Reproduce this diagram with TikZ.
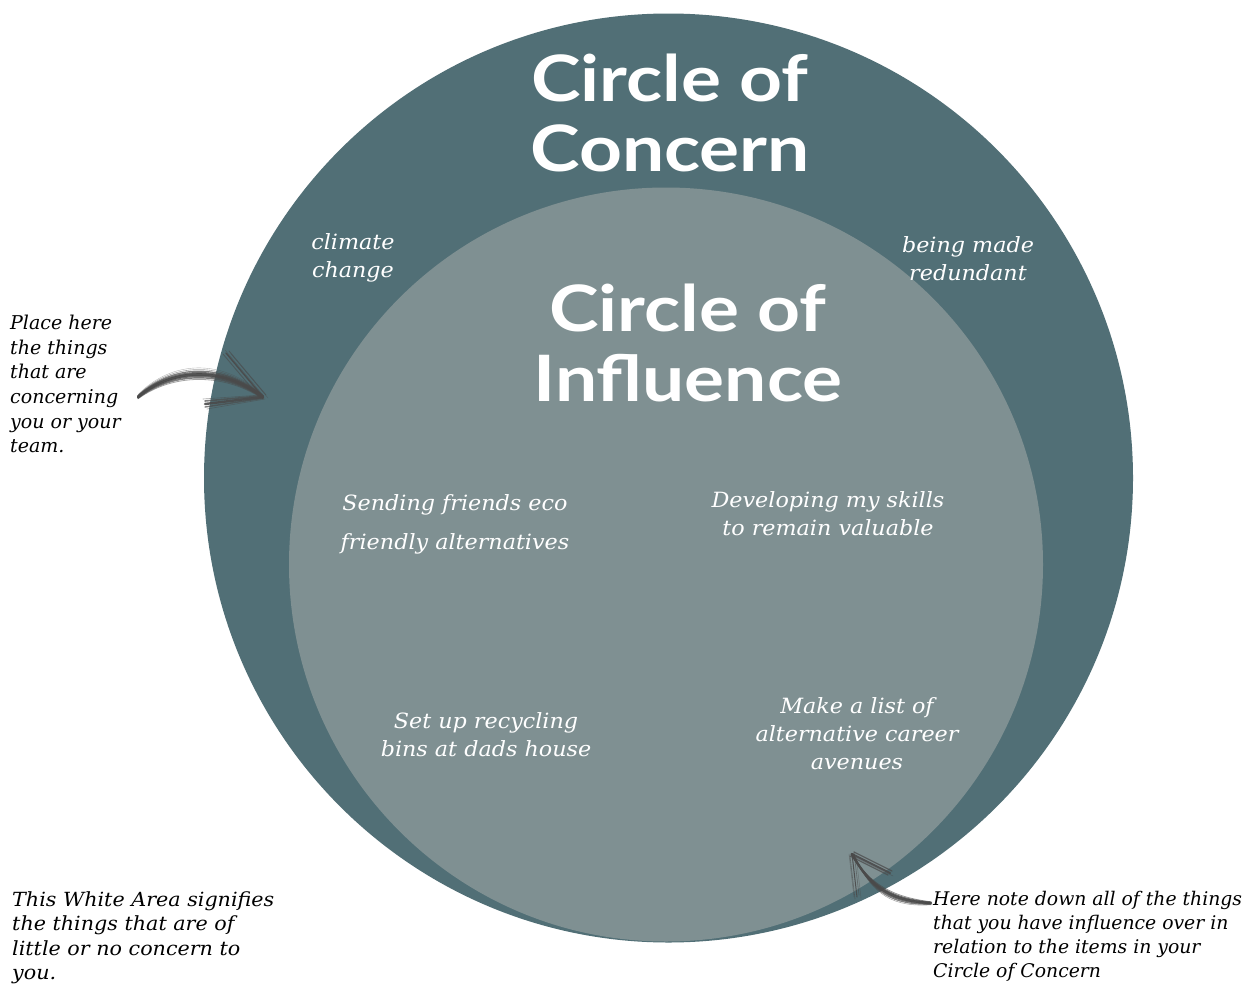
\documentclass[tikz,border=0pt]{standalone}
\usepackage{fontspec}
\usetikzlibrary{calc}
\newfontfamily\notefont{DejaVu Serif}
\newfontfamily\itemfont{DejaVu Serif}[FakeStretch=1.06]
\newfontfamily\headfont{Lato}[FakeStretch=1.17]
\definecolor{concernteal}{HTML}{516F76}
\definecolor{influencegrey}{HTML}{7F9092}
\definecolor{brushgrey}{HTML}{4A4A4A}
\tikzset{
  note/.style={text=black, align=left, anchor=north west, inner sep=0pt},
  item/.style={font=\itemfont\itshape\fontsize{21}{28}\selectfont, text=white, align=center, inner sep=0pt},
  heading/.style={font=\headfont\bfseries\fontsize{64}{70}\selectfont, text=white, align=center, inner sep=0pt},
  brush/.style={draw=brushgrey, line cap=round, line join=round},
}
\begin{document}
\begin{tikzpicture}[x=1pt,y=-1pt]
\useasboundingbox (0,0) rectangle (1253,985);
\fill[white] (0,0) rectangle (1253,985);

% the two circles
\node[circle, fill=concernteal, minimum size=929pt, inner sep=0pt] (concern) at (668.5,478) {};
\node[circle, fill=influencegrey, minimum size=754pt, inner sep=0pt] (influence) at (666,564.5) {};

% headings
\node[heading] (concernhead) at (670,113) {Circle of\\Concern};
\node[heading] (influencehead) at (688,343) {Circle of\\Influence};

% items of concern
\node[item] (climate) at (353,258) {climate\\change};
\node[item] (redundant) at (968,258.5) {being made\\redundant};

% items of influence
\node[item, font=\itemfont\itshape\fontsize{21}{39}\selectfont] (eco) at (455,524) {Sending friends eco\\friendly alternatives};
\node[item] (skills) at (828,514) {Developing my skills\\to remain valuable};
\node[item] (recycling) at (486,734.5) {Set up recycling\\bins at dads house};
\node[item] (career) at (857,734) {Make a list of\\alternative career\\avenues};

% notes
\node[note, font=\notefont\itshape\fontsize{19}{24.6}\selectfont] (placehere) at (10,315) {Place here\\the things\\that are\\concerning\\you or your\\team.};
\node[note, font=\itemfont\itshape\fontsize{19.5}{24.6}\selectfont] (whitearea) at (12,891) {This White Area signifies\\the things that are of\\little or no concern to\\you.};
\node[note, font=\notefont\itshape\fontsize{18.8}{24}\selectfont] (notedown) at (933,891) {Here note down all of the things\\that you have influence over in\\relation to the items in your\\Circle of Concern};

% brush arrow pointing into the circle of concern
\coordinate (lhead) at (263,397);
\coordinate (ltail) at (138,397);
\foreach \dy/\w/\o in {0/2.6/0.95, -2/1.8/0.8, 2/1.8/0.8, -4/1.2/0.7, 4/1.4/0.7, -6/0.6/0.5, 6/0.8/0.5, -8/0.4/0.4} {
  \draw[brush, line width=\w pt, opacity=\o] ($(ltail)+(0,0.3*\dy)$) .. controls (172,368+\dy) and (222,366+\dy) .. ($(lhead)+(0,0.3*\dy)$);
}
\foreach \dx/\dy/\w/\o in {0/0/1.4/0.9, 3/-2/0.9/0.6, -3/1/0.9/0.6, 5/1/0.5/0.4, -1/-3/0.5/0.5} {
  \draw[brush, line width=\w pt, opacity=\o] ($(lhead)+(\dx,\dy)$) -- (226+\dx,353+\dy);
}
\foreach \dx/\dy/\w/\o in {0/0/2.4/0.9, 0/-3/1.6/0.7, 0/3/1.4/0.7, -2/-5/0.6/0.5, 2/5/0.6/0.5} {
  \draw[brush, line width=\w pt, opacity=\o] ($(lhead)+(\dx,0.4*\dy)$) -- (205+\dx,404+\dy);
}

% brush arrow pointing into the circle of influence
\coordinate (rhead) at (852,854);
\coordinate (rtail) at (931,903);
\foreach \dy/\w/\o in {0/2.4/0.95, -2/1.6/0.8, 2/1.6/0.8, 4/1.1/0.7, -4/0.7/0.6, 6/0.5/0.5} {
  \draw[brush, line width=\w pt, opacity=\o] ($(rtail)+(0,0.3*\dy)$) .. controls (895,901+\dy) and (872,891+\dy) .. ($(rhead)+(0.3*\dy,0)$);
}
\foreach \dx/\dy/\w/\o in {0/0/1.0/0.9, 2/-2/0.6/0.6, -2/2/0.6/0.6, 4/1/0.5/0.4, -3/0/0.5/0.5} {
  \draw[brush, line width=\w pt, opacity=\o] ($(rhead)+(\dx,\dy)$) -- (857+\dx,897+\dy);
}
\foreach \dx/\dy/\w/\o in {0/0/2.0/0.9, 2/-2/1.2/0.7, -2/2/1.2/0.7, 3/3/0.5/0.5} {
  \draw[brush, line width=\w pt, opacity=\o] ($(rhead)+(\dx,\dy)$) -- (890+\dx,873+\dy);
}
\end{tikzpicture}
\end{document}
